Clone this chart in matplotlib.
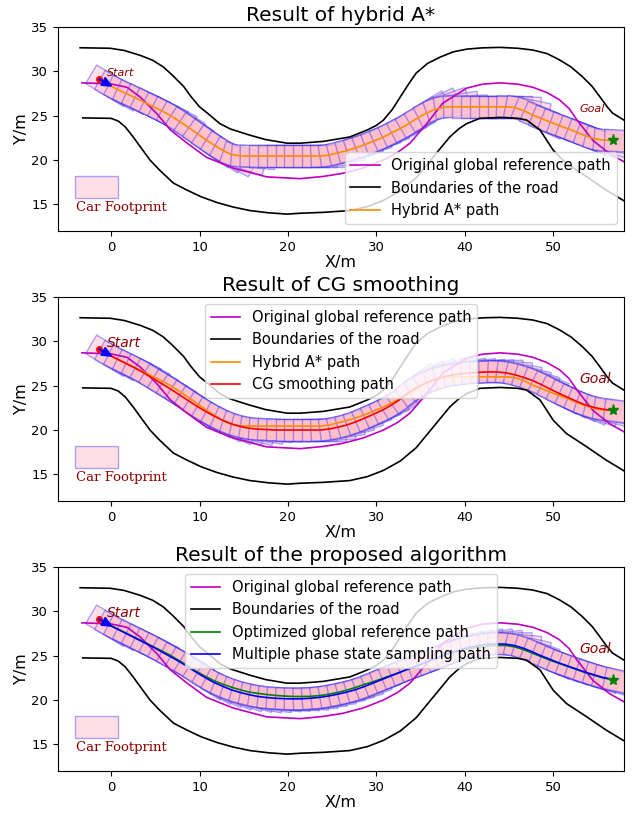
import numpy as np
import matplotlib
matplotlib.use('Agg')
import matplotlib.pyplot as plt
from matplotlib.patches import Polygon, Rectangle

# road boundaries
up_x = [-3.5, -0.1, 1.5, 3.3, 4.7, 5.9, 7.0, 8.2, 9.0, 10.0, 11.0, 12.3, 13.5, 15.7, 17.5, 19.9, 21.4,
        24.0, 27.0, 29.0, 30.0, 30.8, 31.8, 32.7, 33.6, 34.5, 35.8, 37.2, 38.7, 40.2, 42.0, 44.0,
        46.0, 47.7, 49.3, 50.7, 52.0, 53.3, 54.4, 55.3, 56.1, 56.7, 58.0]
up_y = [32.66, 32.6, 32.35, 31.8, 31.25, 30.5, 29.5, 28.3, 27.2, 26.0, 25.2, 24.1, 23.5, 22.8, 22.3, 21.9, 21.9,
        22.1, 22.6, 23.4, 23.9, 24.5, 25.7, 27.1, 28.5, 29.8, 30.9, 31.6, 32.2, 32.5, 32.65, 32.7,
        32.6, 32.4, 32.0, 31.3, 30.5, 29.4, 28.3, 27.1, 26.0, 25.3, 24.5]
lo_x = [-3.2, 0.0, 0.8, 1.6, 2.5, 3.3, 4.4, 5.5, 7.05, 8.6, 10.2, 12.0, 13.8, 15.7, 17.8, 19.9, 21.4,
        24.0, 27.0, 29.0, 30.8, 32.7, 34.5, 36.4, 38.3, 39.3, 40.2, 41.7, 44.0, 46.0, 47.0, 48.5,
        50.0, 51.5, 53.8, 56.0, 58.0]
lo_y = [24.75, 24.7, 24.4, 23.74, 22.6, 21.5, 20.0, 18.85, 17.4, 16.6, 15.85, 15.2, 14.7, 14.3, 14.05, 13.9, 14.0,
        14.1, 14.3, 14.75, 15.45, 16.5, 18.0, 20.3, 22.6, 23.5, 24.1, 24.7, 24.8, 24.7, 24.5, 23.4,
        21.1, 19.6, 18.1, 16.6, 15.4]

# original global reference path
ref_x = [-3.3, -0.1, 1.8, 3.3, 5.2, 6.7, 8.6, 10.8, 13.8, 17.6, 21.4, 24.0, 26.2, 28.5, 30.8,
         32.4, 33.8, 35.7, 37.5, 40.2, 42.0, 44.0, 46.0, 47.7, 49.3, 50.7, 51.8, 52.7, 54.5, 56.4, 58.0]
ref_y = [28.7, 28.6, 28.2, 27.1, 25.2, 23.4, 21.9, 20.3, 19.1, 18.1, 17.9, 18.15, 18.5, 19.1, 20.0,
         20.85, 21.9, 24.1, 26.4, 28.1, 28.55, 28.7, 28.55, 28.2, 27.6, 26.8, 25.8, 24.5, 22.2, 20.7, 19.8]

# planned paths, one pose per point
px = [-1.4, -0.4, 0.6, 1.6, 2.6, 3.6, 4.6, 5.6, 6.6, 7.6, 8.6, 9.6, 10.6, 11.6, 12.6, 13.6,
      14.6, 15.6, 16.6, 17.6, 18.6, 19.6, 20.6, 21.6, 22.6, 23.6, 24.6, 25.6, 26.6, 27.6,
      28.6, 29.6, 30.6, 31.6, 32.6, 33.6, 34.6, 35.6, 36.6, 37.6, 38.6, 39.6, 40.6, 41.6,
      42.6, 43.6, 44.6, 45.6, 46.6, 47.6, 48.6, 49.6, 50.6, 51.6, 52.6, 53.6, 54.6, 55.6, 56.8]
astar_y = [29.15, 28.55, 28.02, 27.55, 27.08, 26.6, 26.1, 25.62, 25.08, 24.45, 23.78, 23.08,
           22.38, 21.72, 21.1, 20.62, 20.47, 20.45, 20.45, 20.45, 20.45, 20.45, 20.45, 20.45,
           20.45, 20.45, 20.55, 20.8, 21.05, 21.35, 21.7, 22.1, 22.5, 23.0, 23.5, 24.05, 24.7,
           25.25, 25.7, 25.95, 26.0, 26.0, 26.0, 26.0, 26.0, 26.0, 26.0, 25.92, 25.6, 25.1,
           24.7, 24.3, 23.92, 23.55, 23.15, 22.75, 22.42, 22.25, 22.2]
cg_y = [29.15, 28.55, 28.05, 27.55, 27.05, 26.5, 25.9, 25.3, 24.7, 24.05, 23.4, 22.75, 22.15,
        21.6, 21.1, 20.7, 20.4, 20.2, 20.1, 20.05, 20.0, 20.0, 20.0, 20.0, 20.0, 20.0, 20.1,
        20.3, 20.55, 20.9, 21.3, 21.75, 22.2, 22.75, 23.4, 24.2, 24.8, 25.3, 25.7, 26.0, 26.2,
        26.35, 26.45, 26.5, 26.55, 26.55, 26.45, 26.25, 25.95, 25.6, 25.15, 24.65, 24.15,
        23.7, 23.25, 22.85, 22.55, 22.35, 22.2]
opt_y = [29.15, 28.6, 28.1, 27.6, 27.1, 26.6, 26.1, 25.6, 25.1, 24.5, 23.9, 23.25, 22.7, 22.2,
         21.8, 21.45, 21.15, 20.9, 20.75, 20.62, 20.52, 20.45, 20.4, 20.4, 20.42, 20.5, 20.65,
         20.85, 21.1, 21.4, 21.75, 22.05, 22.4, 22.75, 23.1, 23.5, 23.85, 24.25, 24.65, 25.0,
         25.35, 25.6, 25.8, 25.95, 26.08, 26.15, 26.15, 26.0, 25.7, 25.3, 24.9, 24.5, 24.15,
         23.8, 23.45, 23.1, 22.8, 22.5, 22.3]
mps_y = [29.15, 28.55, 28.05, 27.55, 27.05, 26.55, 26.05, 25.5, 24.95, 24.4, 23.8, 23.15, 22.55,
         22.0, 21.55, 21.15, 20.85, 20.6, 20.4, 20.28, 20.2, 20.15, 20.13, 20.14, 20.2, 20.3,
         20.45, 20.65, 20.88, 21.15, 21.5, 21.9, 22.3, 22.7, 23.1, 23.5, 23.85, 24.25, 24.65,
         25.05, 25.4, 25.7, 25.95, 26.15, 26.28, 26.33, 26.3, 26.15, 25.85, 25.45, 25.0, 24.6,
         24.2, 23.85, 23.5, 23.15, 22.85, 22.55, 22.3]

start = (-1.4, 29.15)
goal = (56.8, 22.3)

CAR_L, CAR_W, REAR = 5.0, 2.44, 1.0
FACE = (1.0, 0.75, 0.8, 0.5)
EDGE = (0.0, 0.0, 1.0, 0.33)


def footprints(ax, xs, ys):
    xs = np.asarray(xs)
    ys = np.asarray(ys)
    th = np.arctan2(np.gradient(ys), np.gradient(xs))
    for x, y, t in zip(xs, ys, th):
        c, s = np.cos(t), np.sin(t)
        pts = []
        for dl, dw in [(-REAR, -CAR_W / 2), (CAR_L - REAR, -CAR_W / 2),
                       (CAR_L - REAR, CAR_W / 2), (-REAR, CAR_W / 2)]:
            pts.append((x + dl * c - dw * s, y + dl * s + dw * c))
        ax.add_patch(Polygon(pts, closed=True, fc=FACE, ec=EDGE, lw=1, zorder=1))


def base(ax, title, txt_size):
    ax.plot(up_x, up_y, 'k-', lw=1.2, label='Boundaries of the road', zorder=2)
    ax.plot(lo_x, lo_y, 'k-', lw=1.2, zorder=2)
    ax.plot(ref_x, ref_y, 'm-', lw=1.2, label='Original global reference path', zorder=2)
    ax.plot(*start, 'ro', ms=4, zorder=4)
    ax.arrow(start[0], start[1], 1.45, -0.82, head_width=1.0, head_length=1.1,
             length_includes_head=True, fc='b', ec='b', lw=1, zorder=4)
    ax.plot(*goal, '*', color='green', ms=8, zorder=4)
    ax.text(-0.45, 29.8, 'Start', color='darkred', style='italic', fontsize=txt_size,
            va='center', ha='left')
    ax.text(53.0, 25.8, 'Goal', color='darkred', style='italic', fontsize=txt_size,
            va='center', ha='left')
    ax.add_patch(Rectangle((-4.07, 15.76), 4.9, 2.44, fc=FACE, ec=EDGE, lw=1))
    ax.text(-3.95, 14.6, 'Car Footprint', color='darkred', family='DejaVu Serif',
            fontsize=9.5, va='center', ha='left')
    ax.set_xlim(-6, 58)
    ax.set_ylim(12, 35)
    ax.set_xticks([0, 10, 20, 30, 40, 50])
    ax.set_yticks([15, 20, 25, 30, 35])
    ax.tick_params(labelsize=9.5)
    ax.set_xlabel('X/m', fontsize=11.5, labelpad=1)
    ax.set_ylabel('Y/m', fontsize=11.5, labelpad=2)
    ax.set_title(title, fontsize=14.5, pad=4)


fig = plt.figure(figsize=(6.32, 8.13), dpi=100)
ax1 = fig.add_axes([0.0918, 0.7159, 0.8955, 0.2509])
ax2 = fig.add_axes([0.0918, 0.3838, 0.8955, 0.2509])
ax3 = fig.add_axes([0.0918, 0.0517, 0.8955, 0.2509])

# hybrid A*
footprints(ax1, px, astar_y)
base(ax1, 'Result of hybrid A*', 8)
ax1.plot(px, astar_y, color='darkorange', lw=1.2, label='Hybrid A* path', zorder=3)
h, l = ax1.get_legend_handles_labels()
order = [1, 0, 2]
ax1.legend([h[i] for i in order], [l[i] for i in order], loc='lower right', fontsize=10.5)

# CG smoothing
footprints(ax2, px, cg_y)
base(ax2, 'Result of CG smoothing', 10)
ax2.plot(px, astar_y, color='darkorange', lw=1.2, label='Hybrid A* path', zorder=3)
ax2.plot(px, cg_y, color='red', lw=1.2, label='CG smoothing path', zorder=3)
h, l = ax2.get_legend_handles_labels()
order = [1, 0, 2, 3]
ax2.legend([h[i] for i in order], [l[i] for i in order], loc='upper center', fontsize=10.5)

# proposed method
footprints(ax3, px, mps_y)
base(ax3, 'Result of the proposed algorithm', 10)
ax3.plot(px, opt_y, color='green', lw=1.2, label='Optimized global reference path', zorder=3)
ax3.plot(px, mps_y, color='blue', lw=1.2, label='Multiple phase state sampling path', zorder=3)
h, l = ax3.get_legend_handles_labels()
order = [1, 0, 2, 3]
ax3.legend([h[i] for i in order], [l[i] for i in order], loc='upper center', fontsize=10.5)

fig.savefig('out.png', dpi=100)
